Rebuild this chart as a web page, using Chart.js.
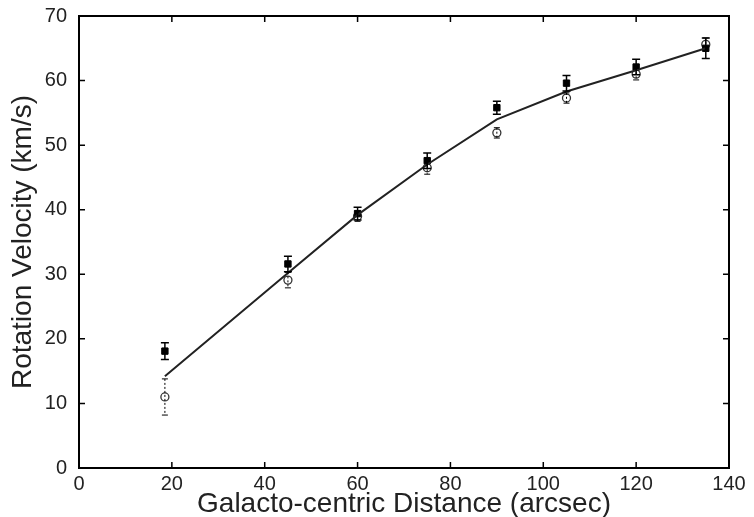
<!DOCTYPE html>
<html>
<head>
<meta charset="utf-8">
<script src="https://cdn.jsdelivr.net/npm/chart.js@4/dist/chart.umd.min.js"></script>
<style>
  html, body { margin: 0; padding: 0; background: #fff; }
  #wrap { width: 754px; height: 517px; }
</style>
</head>
<body>
<div id="wrap"><canvas id="chart"></canvas></div>
<script>
// distances (arcsec) and rotation velocities (km/s)
const distance = [18.5, 45, 60, 75, 90, 105, 120, 135];
const velFilled = [18.1, 31.6, 39.4, 47.6, 55.8, 59.6, 62.1, 65.0];
const errFilled = [1.3, 1.2, 1.0, 1.2, 1.0, 1.2, 1.2, 1.6];
const velOpen = [11.0, 29.1, 39.0, 46.5, 51.9, 57.3, 61.0, 65.6];
const errOpen = [2.8, 1.2, 0.8, 1.0, 0.8, 0.8, 0.9, 1.0];
const velModel = [14.2, 30.2, 39.2, 47.0, 54.0, 58.3, 61.6, 65.0];

const xTicks = [0, 20, 40, 60, 80, 100, 120, 140];
const yTicks = [0, 10, 20, 30, 40, 50, 60, 70];

const toPoints = (ys) => distance.map((x, i) => ({ x: x, y: ys[i] }));

// error bars + frame + inward ticks
const framePlugin = {
    id: 'frame',
    afterDatasetsDraw(chart) {
        const ctx = chart.ctx;
        const xs = chart.scales.x;
        const ys = chart.scales.y;
        const area = chart.chartArea;

        ctx.save();
        ctx.strokeStyle = '#000';

        // error bars
        const bars = [
            { vals: velFilled, errs: errFilled, dash: [], cap: 4, w: 1.5 },
            { vals: velOpen, errs: errOpen, dash: [2, 2], cap: 3, w: 1 }
        ];
        bars.forEach(b => {
            ctx.lineWidth = b.w;
            distance.forEach((d, i) => {
                const px = xs.getPixelForValue(d);
                const top = ys.getPixelForValue(b.vals[i] + b.errs[i]);
                const bot = ys.getPixelForValue(b.vals[i] - b.errs[i]);
                ctx.setLineDash(b.dash);
                ctx.beginPath();
                ctx.moveTo(px, top);
                ctx.lineTo(px, bot);
                ctx.stroke();
                ctx.setLineDash([]);
                ctx.beginPath();
                ctx.moveTo(px - b.cap, top);
                ctx.lineTo(px + b.cap, top);
                ctx.moveTo(px - b.cap, bot);
                ctx.lineTo(px + b.cap, bot);
                ctx.stroke();
            });
        });

        // frame
        ctx.lineWidth = 2;
        ctx.strokeRect(area.left, area.top, area.right - area.left, area.bottom - area.top);

        // inward ticks
        const len = 6;
        ctx.lineWidth = 1.5;
        ctx.beginPath();
        xTicks.forEach(v => {
            const px = xs.getPixelForValue(v);
            ctx.moveTo(px, area.bottom);
            ctx.lineTo(px, area.bottom - len);
            ctx.moveTo(px, area.top);
            ctx.lineTo(px, area.top + len);
        });
        yTicks.forEach(v => {
            const py = ys.getPixelForValue(v);
            ctx.moveTo(area.left, py);
            ctx.lineTo(area.left + len, py);
            ctx.moveTo(area.right, py);
            ctx.lineTo(area.right - len, py);
        });
        ctx.stroke();
        ctx.restore();
    }
};

const font = "'Liberation Sans', Arial, sans-serif";

new Chart(document.getElementById('chart'), {
    type: 'scatter',
    data: {
        datasets: [
            {
                label: 'Model',
                type: 'line',
                data: toPoints(velModel),
                borderColor: '#222',
                borderWidth: 2,
                pointRadius: 0,
                tension: 0,
                fill: false
            },
            {
                label: 'Filled',
                data: toPoints(velFilled),
                pointStyle: 'rect',
                pointRadius: 4.5,
                backgroundColor: '#000',
                borderColor: '#000',
                borderWidth: 1
            },
            {
                label: 'Open',
                data: toPoints(velOpen),
                pointStyle: 'circle',
                pointRadius: 4,
                backgroundColor: '#fff',
                borderColor: '#333',
                borderWidth: 1.3
            }
        ]
    },
    options: {
        responsive: true,
        maintainAspectRatio: false,
        animation: false,
        layout: {
            padding: { top: 16, right: 25, left: 0, bottom: 0 }
        },
        scales: {
            x: {
                type: 'linear',
                min: 0,
                max: 140,
                afterBuildTicks: (axis) => { axis.ticks = xTicks.map(v => ({ value: v })); },
                afterFit: (axis) => {
                    axis.height = 49;
                    axis.paddingLeft = 0;
                    axis.paddingRight = 0;
                },
                grid: { display: false, drawTicks: false },
                border: { display: false },
                ticks: {
                    padding: 4,
                    color: '#222',
                    font: { family: font, size: 20 },
                    maxRotation: 0
                },
                title: {
                    display: true,
                    text: 'Galacto-centric Distance (arcsec)',
                    color: '#222',
                    font: { family: font, size: 28 },
                    padding: { top: 0, bottom: -4 }
                }
            },
            y: {
                type: 'linear',
                min: 0,
                max: 70,
                afterBuildTicks: (axis) => { axis.ticks = yTicks.map(v => ({ value: v })); },
                afterFit: (axis) => {
                    axis.width = 79;
                    axis.paddingTop = 0;
                    axis.paddingBottom = 0;
                },
                grid: { display: false, drawTicks: false },
                border: { display: false },
                ticks: {
                    padding: 12,
                    color: '#222',
                    font: { family: font, size: 20 }
                },
                title: {
                    display: true,
                    text: 'Rotation Velocity (km/s)',
                    color: '#222',
                    font: { family: font, size: 28 },
                    padding: { top: 6, bottom: 4 }
                }
            }
        },
        plugins: {
            legend: { display: false },
            tooltip: { enabled: false }
        }
    },
    plugins: [framePlugin]
});
</script>
</body>
</html>
